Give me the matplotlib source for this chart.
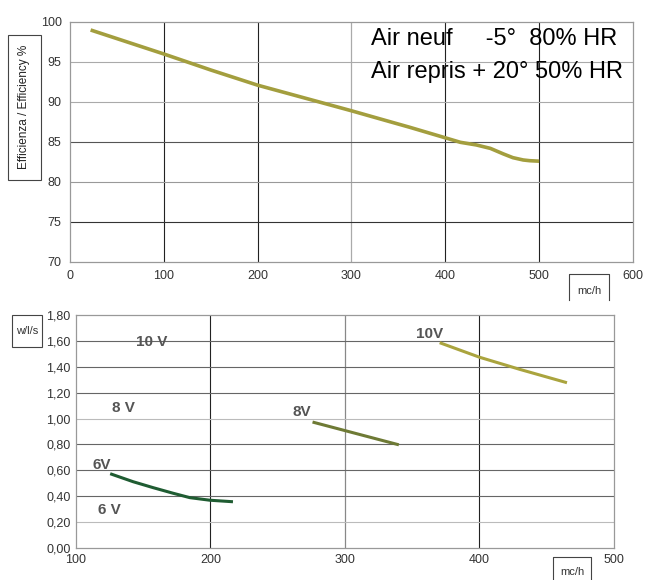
import numpy as np
import matplotlib
matplotlib.use('Agg')
import matplotlib.pyplot as plt
from matplotlib.patches import Rectangle

plt.rcParams['font.family'] = ['Liberation Sans Narrow', 'Liberation Sans', 'DejaVu Sans']

# top chart: efficiency vs air flow
eff_flow = [22, 100, 150, 200, 250, 300, 330, 362, 398, 416, 433, 448, 462, 472, 483, 490, 500]
eff_val = [99.0, 96.0, 94.0, 92.1, 90.5, 88.9, 87.9, 86.84, 85.59, 84.96, 84.63, 84.2,
           83.5, 83.04, 82.75, 82.66, 82.6]

# bottom chart: absorbed power per voltage
v6_flow = [126.5, 142.5, 157.4, 172.2, 184.6, 199.5, 215.6]
v6_val = [0.57, 0.512, 0.466, 0.423, 0.389, 0.369, 0.358]
v8_flow = [277, 339]
v8_val = [0.97, 0.80]
v10_flow = [371.5, 400, 430, 464]
v10_val = [1.582, 1.474, 1.38, 1.28]

top_xticks = [0, 100, 200, 300, 400, 500, 600]
top_yticks = [70, 75, 80, 85, 90, 95, 100]
bot_xticks = [100, 200, 300, 400, 500]
bot_yticks = [0.0, 0.2, 0.4, 0.6, 0.8, 1.0, 1.2, 1.4, 1.6, 1.8]

fig = plt.figure(figsize=(6.45, 5.8), dpi=100)

# ---------- top chart
ax1 = fig.add_axes([0.1085, 0.5483, 0.8729, 0.4138])
ax1.set_xlim(0, 600)
ax1.set_ylim(70, 100)
ax1.set_xticks(top_xticks)
ax1.set_yticks(top_yticks)
ax1.tick_params(length=0, labelsize=9, colors='#333333', pad=6)
for x in [100, 200, 400, 500]:
    ax1.axvline(x, color='#222222', lw=0.8, zorder=1)
ax1.axvline(300, color='#aaaaaa', lw=0.9, zorder=1)
for y, c in [(75, '#333333'), (80, '#999999'), (85, '#555555'), (90, '#aaaaaa'), (95, '#aaaaaa')]:
    ax1.axhline(y, color=c, lw=0.8, zorder=1)
for s in ax1.spines.values():
    s.set_color('#999999')
    s.set_linewidth(0.9)
ax1.plot(eff_flow, eff_val, color='#a39e3e', lw=2.6, zorder=3, solid_capstyle='butt')
ax1.text(0.535, 0.93, 'Air neuf     -5°  80% HR', transform=ax1.transAxes,
         fontsize=17, family=['Liberation Sans', 'DejaVu Sans'], va='center')
ax1.text(0.535, 0.79, 'Air repris + 20° 50% HR', transform=ax1.transAxes,
         fontsize=17, family=['Liberation Sans', 'DejaVu Sans'], va='center')

# y label box
fig.add_artist(Rectangle((8 / 645, 1 - 180 / 580), 33 / 645, 145 / 580,
                         transform=fig.transFigure, fill=False, ec='#444444', lw=0.8))
fig.text(24.5 / 645, 1 - 107 / 580, 'Efficienza / Efficiency %', rotation=90,
         ha='center', va='center', fontsize=8.5, color='#222222')

# mc/h box (open at bottom)
fig.add_artist(plt.Line2D([569 / 645, 569 / 645, 609 / 645, 609 / 645],
                          [1 - 300 / 580, 1 - 274 / 580, 1 - 274 / 580, 1 - 300 / 580],
                          transform=fig.transFigure, color='#444444', lw=0.8))
fig.text(589 / 645, 1 - 291 / 580, 'mc/h', ha='center', va='center', fontsize=8, color='#333333')

# ---------- bottom chart
ax2 = fig.add_axes([0.1178, 0.0552, 0.834, 0.4017])
ax2.set_xlim(100, 500)
ax2.set_ylim(0, 1.8)
ax2.set_xticks(bot_xticks)
ax2.set_yticks(bot_yticks)
ax2.set_yticklabels([f'{v:.2f}'.replace('.', ',') for v in bot_yticks])
ax2.tick_params(length=0, labelsize=9, colors='#333333', pad=4)
for x in [200, 400]:
    ax2.axvline(x, color='#222222', lw=0.8, zorder=1)
ax2.axvline(300, color='#888888', lw=0.9, zorder=1)
for y in bot_yticks[1:-1]:
    c = '#bbbbbb' if y in (0.2, 1.0) else '#666666'
    ax2.axhline(y, color=c, lw=0.8, zorder=1)
for s in ax2.spines.values():
    s.set_color('#999999')
    s.set_linewidth(0.9)
ax2.plot(v6_flow, v6_val, color='#1f5c32', lw=2.2, zorder=3)
ax2.plot(v8_flow, v8_val, color='#6e7a35', lw=2.2, zorder=3)
ax2.plot(v10_flow, v10_val, color='#aaa43e', lw=2.2, zorder=3)

lab = dict(fontsize=11, fontweight='bold', color='#555555', ha='center', va='center',
           family=['Liberation Sans', 'DejaVu Sans'])
ax2.text(156, 1.59, '10 V', **lab)
ax2.text(135, 1.08, '8 V', **lab)
ax2.text(119, 0.64, '6V', **lab)
ax2.text(125, 0.29, '6 V', **lab)
ax2.text(268, 1.05, '8V', **lab)
ax2.text(363, 1.65, '10V', **lab)

# w/l/s box
fig.add_artist(Rectangle((12 / 645, 1 - 347 / 580), 30 / 645, 32 / 580,
                         transform=fig.transFigure, fill=False, ec='#444444', lw=0.8))
fig.text(27 / 645, 1 - 331 / 580, 'w/l/s', ha='center', va='center', fontsize=8, color='#333333')

# mc/h box bottom
fig.add_artist(plt.Line2D([553 / 645, 553 / 645, 591 / 645, 591 / 645],
                          [0, 1 - 557 / 580, 1 - 557 / 580, 0],
                          transform=fig.transFigure, color='#444444', lw=0.8))
fig.text(572 / 645, 1 - 572 / 580, 'mc/h', ha='center', va='center', fontsize=8, color='#333333')

fig.savefig('out.png', dpi=100)
